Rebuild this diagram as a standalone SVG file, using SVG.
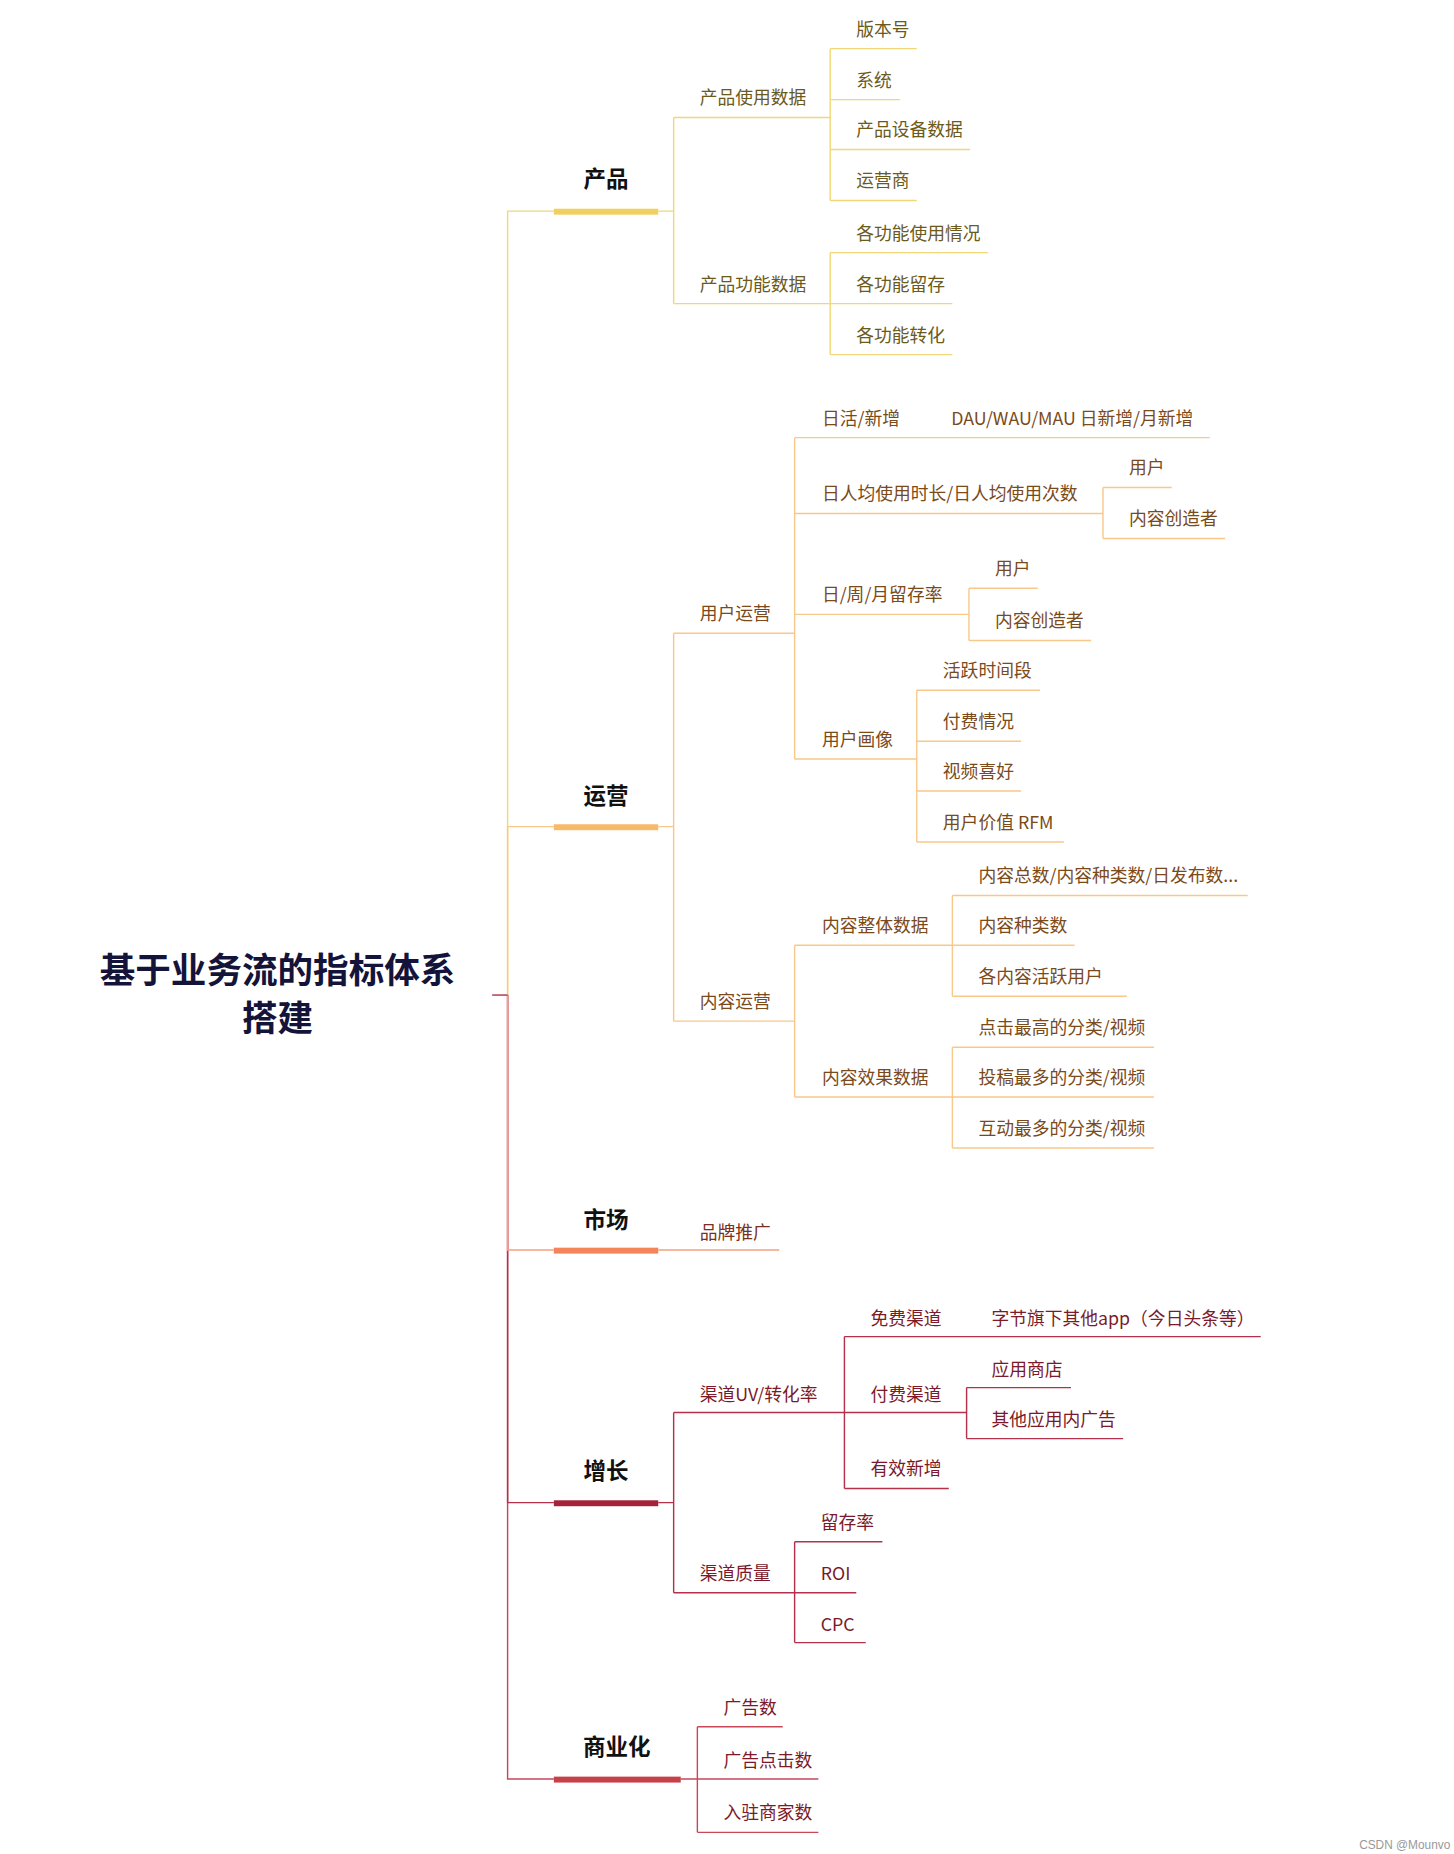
<svg xmlns="http://www.w3.org/2000/svg" width="1454" height="1854" viewBox="0 0 1454 1854">
<style>
text{font-family:"Noto Sans CJK SC","Noto Sans",sans-serif;font-size:15px}
.t1{fill:#6b5a1a}.t2{fill:#7a4a1a}.t3{fill:#7a3020}.t4{fill:#7a1a2a}
.h{font-size:19px;font-weight:bold;fill:#111;text-anchor:middle}
.l1{stroke:#f0d878;fill:none;stroke-width:1.2}.l2{stroke:#f8c88a;fill:none;stroke-width:1.2}
.l3{stroke:#f5a080;fill:none;stroke-width:1.2}.l4{stroke:#b5304a;fill:none;stroke-width:1.2}
.l5{stroke:#c84858;fill:none;stroke-width:1.2}
</style>
<rect width="1454" height="1854" fill="#fff"/>
<g transform="scale(1.186,1.186)">
<g id="connectors">
<path class="l5" d="M428 839V1500H467"/>
<path class="l4" d="M428 839V1267H467"/>
<path class="l3" d="M428 839V1054H467"/>
<path class="l1" d="M428 839V178H467"/>
<path class="l2" d="M428 839V697H467"/>
<path class="l4" d="M415 839H428"/>
<rect x="467" y="176" width="88" height="5" fill="#f0d060"/>
<rect x="467" y="695" width="88" height="5" fill="#f8b968"/>
<rect x="467" y="1052" width="88" height="5" fill="#f4845a"/>
<rect x="467" y="1265" width="88" height="5" fill="#a5233a"/>
<rect x="467" y="1498" width="107" height="5" fill="#c8404a"/>
<path class="l1" d="M555 178H568M568 99V256M568 99H700M568 256H803M700 41V169M700 41H773M700 84H759M700 126H818M700 169H773M700 213V299M700 213H833M700 299H803"/>
<path class="l2" d="M555 697H568M568 534V861M568 534H670M670 369V640M670 369H1020M670 433H930M930 411V454M930 411H988M930 454H1033M670 518H817M817 496V540M817 496H875M817 540H920M670 640H773M773 582V710M773 582H877M773 625H861M773 667H861M773 710H897M568 861H670M670 797V925M670 797H803M803 755V840M803 755H1052M803 797H906M803 840H950M670 925H803M803 883V968M803 883H973M803 925H973M803 968H973"/>
<path class="l3" d="M555 1054H657"/>
<path class="l4" d="M555 1267H568M568 1191V1343M568 1191H712M712 1127V1255M712 1127H1063M712 1191H815M815 1170V1213M815 1170H903M815 1213H947M712 1255H800M568 1343H670M670 1300V1385M670 1300H744M670 1343H722M670 1385H730"/>
<path class="l5" d="M574 1500H588M588 1456V1545M588 1456H660M588 1500H690M588 1545H690"/>
</g>
<g id="root"><text x="234" y="829" text-anchor="middle" style="font-size:30px;font-weight:bold;fill:#14143a">基于业务流的指标体系</text><text x="234" y="869" text-anchor="middle" style="font-size:30px;font-weight:bold;fill:#14143a">搭建</text></g>
<g id="n-product"><text class="h" x="511" y="158">产品</text></g>
<g id="n-product-sub" class="t1">
<text x="590" y="88">产品使用数据</text><text x="722" y="30">版本号</text><text x="722" y="73">系统</text><text x="722" y="115">产品设备数据</text><text x="722" y="158">运营商</text>
<text x="590" y="245">产品功能数据</text><text x="722" y="202">各功能使用情况</text><text x="722" y="245">各功能留存</text><text x="722" y="288">各功能转化</text></g>
<g id="n-ops"><text class="h" x="511" y="678">运营</text></g>
<g id="n-ops-sub" class="t2">
<text x="590" y="523">用户运营</text><text x="693" y="358">日活/新增</text><text x="802" y="358">DAU/WAU/MAU 日新增/月新增</text>
<text x="693" y="422">日人均使用时长/日人均使用次数</text><text x="952" y="400">用户</text><text x="952" y="443">内容创造者</text>
<text x="693" y="507">日/周/月留存率</text><text x="839" y="485">用户</text><text x="839" y="529">内容创造者</text>
<text x="693" y="629">用户画像</text><text x="795" y="571">活跃时间段</text><text x="795" y="614">付费情况</text><text x="795" y="656">视频喜好</text><text x="795" y="699">用户价值 RFM</text>
<text x="590" y="850">内容运营</text><text x="693" y="786">内容整体数据</text><text x="825" y="744">内容总数/内容种类数/日发布数...</text><text x="825" y="786">内容种类数</text><text x="825" y="829">各内容活跃用户</text>
<text x="693" y="914">内容效果数据</text><text x="825" y="872">点击最高的分类/视频</text><text x="825" y="914">投稿最多的分类/视频</text><text x="825" y="957">互动最多的分类/视频</text></g>
<g id="n-market"><text class="h" x="511" y="1035">市场</text><text class="t3" x="590" y="1045">品牌推广</text></g>
<g id="n-growth"><text class="h" x="511" y="1247">增长</text></g>
<g id="n-growth-sub" class="t4">
<text x="590" y="1181">渠道UV/转化率</text><text x="734" y="1117">免费渠道</text><text x="836" y="1117">字节旗下其他app（今日头条等）</text>
<text x="734" y="1181">付费渠道</text><text x="836" y="1160">应用商店</text><text x="836" y="1202">其他应用内广告</text><text x="734" y="1244">有效新增</text>
<text x="590" y="1332">渠道质量</text><text x="692" y="1289">留存率</text><text x="692" y="1332">ROI</text><text x="692" y="1375">CPC</text></g>
<g id="n-biz"><text class="h" x="520" y="1480">商业化</text></g>
<g id="n-biz-sub" class="t4"><text x="610" y="1445">广告数</text><text x="610" y="1490">广告点击数</text><text x="610" y="1534">入驻商家数</text></g>
<text x="1146" y="1559" style="font-size:10px;fill:#999;font-family:'Liberation Sans',sans-serif">CSDN @Mounvo</text>
</g>
</svg>
